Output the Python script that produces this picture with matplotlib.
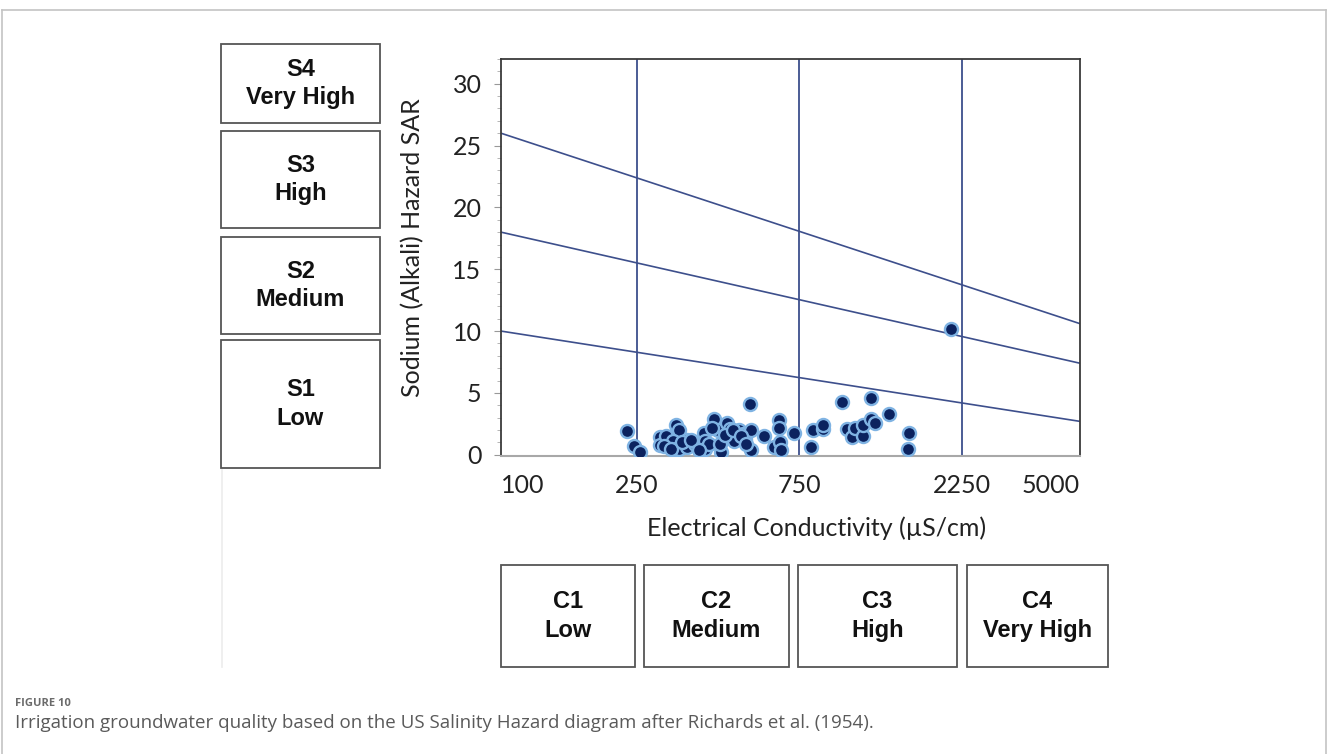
import matplotlib.pyplot as plt
import matplotlib.patches as patches
from matplotlib.ticker import MultipleLocator, NullLocator
import numpy as np

# sample data: electrical conductivity (uS/cm) and sodium adsorption ratio
ec = [235, 245, 255, 292, 292, 305, 326, 333, 320, 326, 334, 351, 351, 370,
      393, 398, 398, 409, 422, 433, 443, 438, 460, 471, 483, 500, 513, 521,
      538, 542, 542, 593, 634, 653, 653, 658, 661, 724, 814, 821, 879, 883,
      1001, 1034, 1072, 1093, 1152, 1152, 1216, 1216, 1254, 1372, 1570, 1559,
      2091, 300, 315, 340, 362, 380, 415, 455, 480, 505, 525]
sar = [1.9, 0.7, 0.2, 1.4, 0.8, 1.5, 2.4, 2.0, 1.1, 0.5, 0.5, 1.2, 0.6, 0.9,
       1.8, 1.1, 0.5, 0.9, 2.9, 2.0, 0.2, 0.9, 2.6, 2.1, 1.1, 2.0, 1.7, 1.3,
       4.1, 2.0, 0.4, 1.5, 0.6, 2.8, 2.2, 1.0, 0.4, 1.8, 0.6, 2.0, 2.1, 2.4,
       4.3, 2.1, 1.4, 2.2, 1.5, 2.4, 4.6, 2.9, 2.6, 3.3, 1.8, 0.5,
       10.2, 0.7, 0.5, 1.0, 1.2, 0.4, 2.2, 1.6, 2.0, 1.5, 0.9]

ec_ticks = [100, 250, 750, 2250, 5000]
ec_limits = [250, 750, 2250]
# SAR class boundaries at EC = 100 and EC = 5000
sar_left = [10, 18, 26]
sar_right = [2.7, 7.4, 10.6]

s_classes = ['S4\nVery High', 'S3\nHigh', 'S2\nMedium', 'S1\nLow']
c_classes = ['C1\nLow', 'C2\nMedium', 'C3\nHigh', 'C4\nVery High']

W, H = 1328, 754
fig = plt.figure(figsize=(W / 100, H / 100), dpi=100)


def fx(x):
    return x / W


def fy(y):
    return 1 - y / H


line_col = '#3d4f8c'
tick_font = 'Lato'

ax = fig.add_axes([fx(501), fy(456), fx(1080) - fx(501), fy(59) - fy(456)])
ax.set_xscale('log')
ax.set_xlim(100, 5000)
ax.set_ylim(-0.1, 32)

for v in ec_limits:
    ax.plot([v, v], [-0.1, 32], color=line_col, lw=1.3, zorder=2)
for a, b in zip(sar_left, sar_right):
    ax.plot([100, 5000], [a, b], color=line_col, lw=1.2, zorder=2)

ax.scatter(ec, sar, s=88, c='#0b225f', edgecolors='#7fb3e3', linewidths=1.7,
           zorder=3)

ax.set_xticks(ec_ticks)
ax.set_xticklabels([str(v) for v in ec_ticks])
ax.xaxis.set_minor_locator(NullLocator())
ax.set_yticks(range(0, 31, 5))
ax.yaxis.set_minor_locator(MultipleLocator(1))
ax.tick_params(axis='x', length=0, pad=13, labelsize=18, labelcolor='#222222')
ax.tick_params(axis='y', which='major', length=5, color='#999999', pad=9,
               labelsize=18, labelcolor='#222222')
ax.tick_params(axis='y', which='minor', length=3, color='#aaaaaa')
for lab in ax.get_xticklabels() + ax.get_yticklabels():
    lab.set_family(tick_font)
xlabels = ax.get_xticklabels()
xlabels[0].set_horizontalalignment('left')
xlabels[-1].set_horizontalalignment('right')

for side in ['top', 'right', 'left']:
    ax.spines[side].set_color('#3a3a3a')
    ax.spines[side].set_linewidth(1.3)
ax.spines['bottom'].set_color('#a8a8a8')
ax.spines['bottom'].set_linewidth(1.5)

fig.text(fx(413), fy(248), 'Sodium (Alkali) Hazard SAR', rotation=90,
         ha='center', va='center', fontsize=18, family=tick_font, color='#222222')
fig.text(fx(817), fy(528), 'Electrical Conductivity (µS/cm)',
         ha='center', va='center', fontsize=18, family=tick_font, color='#222222')

# class boxes beside and below the chart
s_boxes = [(44, 123), (131, 228), (237, 334), (340, 468)]
for (top, bot), label in zip(s_boxes, s_classes):
    fig.patches.append(patches.Rectangle((fx(221), fy(bot)), fx(380) - fx(221),
                                         fy(top) - fy(bot), transform=fig.transFigure,
                                         fill=False, edgecolor='#555555', lw=1.3))
    fig.text(fx(300.5), fy((top + bot) / 2), label, ha='center', va='center',
             fontsize=17, fontweight='bold', family='Liberation Sans',
             linespacing=1.3, color='#111111')

c_boxes = [(501, 635), (644, 789), (798, 957), (967, 1108)]
for (left, right), label in zip(c_boxes, c_classes):
    fig.patches.append(patches.Rectangle((fx(left), fy(667)), fx(right) - fx(left),
                                         fy(565) - fy(667), transform=fig.transFigure,
                                         fill=False, edgecolor='#555555', lw=1.3))
    fig.text(fx((left + right) / 2), fy(616), label, ha='center', va='center',
             fontsize=17, fontweight='bold', family='Liberation Sans',
             linespacing=1.3, color='#111111')

# faint leftover edge and the outer frame
fig.add_artist(plt.Line2D([fx(222), fx(222)], [fy(470), fy(667)], color='#ececec', lw=1.2))
fig.add_artist(plt.Line2D([fx(2), fx(1326)], [fy(10), fy(10)], color='#c4c4c4', lw=1.2))
fig.add_artist(plt.Line2D([fx(2), fx(2)], [fy(10), 0], color='#c4c4c4', lw=1.2))
fig.add_artist(plt.Line2D([fx(1326), fx(1326)], [fy(10), 0], color='#c4c4c4', lw=1.2))

fig.text(fx(15), fy(703), 'FIGURE 10', ha='left', va='center', fontsize=8,
         family='Open Sans', fontweight='bold', color='#6b6b6b')
fig.text(fx(15), fy(723), 'Irrigation groundwater quality based on the US Salinity '
         'Hazard diagram after Richards et al. (1954).', ha='left', va='center',
         fontsize=13.5, family='Open Sans', color='#5a5a5a')

fig.savefig('out.png', dpi=100)
